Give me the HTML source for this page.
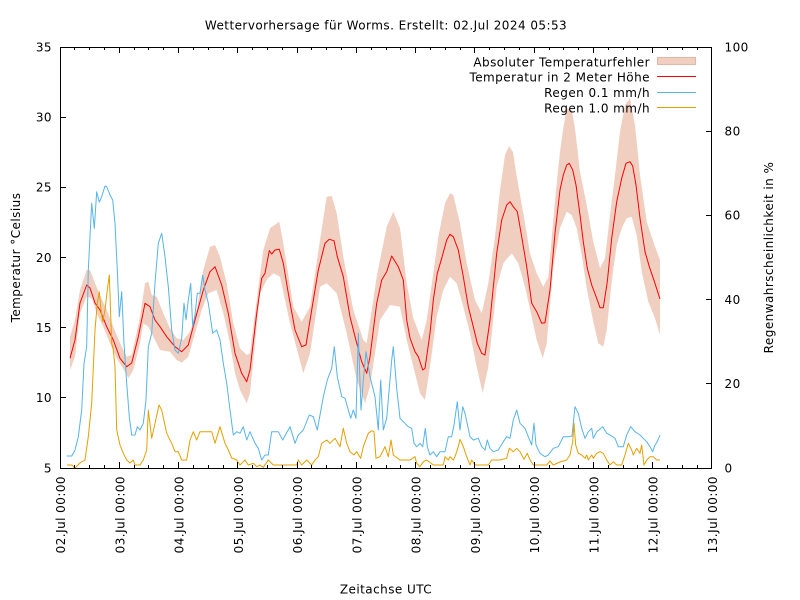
<!DOCTYPE html>
<html>
<head>
<meta charset="utf-8">
<style>
html,body{margin:0;padding:0;background:#fff;}
svg{display:block;}
text{font-family:"DejaVu Sans","Liberation Sans",sans-serif;font-size:12px;letter-spacing:0.45px;fill:#000;}
</style>
</head>
<body>
<svg width="800" height="600" viewBox="0 0 800 600" xmlns="http://www.w3.org/2000/svg">
<rect x="0" y="0" width="800" height="600" fill="#fff"/>

<!-- Title -->
<text x="386" y="29.5" text-anchor="middle">Wettervorhersage für Worms. Erstellt: 02.Jul 2024 05:53</text>

<!-- Error band -->
<polygon fill="#f0cfc0" stroke="none" points="70,336.7 75,320 80,290 86.7,270 90,270 95,283.3 100,295 106.7,310 113.3,326.7 120,343.3 126.7,356.7 131.7,355 140,316.7 145,283.3 148.3,281.7 151.7,295 156.7,296.7 163.3,313.3 170,328.3 176.7,338.3 183.3,340 190,331.7 196.7,310 203.3,270 210,246.7 215,245 220,256.7 226.7,283.3 233.3,323.3 240,348.3 246.7,355 250,353.3 256.7,300 263.3,250 270,228.3 279.3,221.7 283.3,243.3 293.3,306.7 301.7,321.7 310,306.7 320,240 326.7,196.7 331.7,196 336.7,213.3 343.3,256.7 353.3,310 363.3,340 366.7,343.3 376.7,276.7 386.7,226.7 393.3,211.7 400,228 406.7,283.3 413.3,318.3 421.7,340 426.7,320 433.3,273.3 438.3,236.7 445,203.3 450,193.3 453.3,195 460,223.3 466.7,263.3 475,300 481.7,313.3 488.3,283.3 495,236.7 500,190 505,155 509,146 513,152 516.7,176 523.3,213.3 530,253.3 536.7,273.3 543.3,286.7 548.3,277 553.3,220 556,190 560,151.7 563.3,128.3 566.7,108.3 571.7,110 575,128.3 580,171.7 586.7,205 593.3,241.7 600,268.3 605,258.3 610,215 615,175 620,131.7 625,105 630,98.3 635,125 640,175 646.7,221.7 653.3,241.7 660,260 660,335 655,318.3 648.3,301.7 641.7,271.7 636.7,235 631.7,216.7 626.7,218.3 621.7,228.3 616.7,245 611.7,281.7 606.7,330 603.3,346.7 598.3,343.3 593.3,321.7 586.7,288.3 581.7,255 576.7,228.3 571.7,215 566.7,211.7 560,228.3 553.3,266.7 546.7,343.3 542.7,358.3 536.7,340 531.7,316.7 525,286.7 518.3,263.3 511.7,253.3 503.3,263.3 496.7,286.7 488.3,366.7 482.7,393.3 476.7,366.7 470,333.3 463.3,306.7 456.7,283.3 450,276.7 443.3,290 436.7,316.7 430,366.7 425,400 420,393.3 413.3,366.7 406.7,340 400,306.7 390,305 380,320 370,386.7 365,403.3 356.7,380 346.7,333.3 336.7,293.3 326.7,283.3 320,286.7 310,353.3 303.3,373.3 290,323.3 280,276.7 273.3,273.3 266.7,280 260,293.3 250,393.3 246.7,403.3 240,390 235,373.3 230,343.3 223.3,313.3 216.7,290 208.3,293.3 201.7,310 195,333.3 188.3,356.7 181.7,362.7 176.7,360 170,351.7 160,350 155,340 148.3,326.7 143.3,323.3 140,343.3 133.3,370 128.3,378.3 125,371.7 116.7,358.3 110,343.3 103.3,326.7 96.7,313.3 91.7,298 86.7,296.7 80,313.3 75,356.7 70,370"/>

<!-- Temperature -->
<polyline fill="none" stroke="#ff0000" stroke-width="1" stroke-linejoin="round" points="70,358.3 75,340 80,303 86.7,285 90,288 95,303 100,310 106.7,326.7 113.3,340 120,358.3 126.7,366.7 131.7,363 138.3,336.7 145,303.3 150,306.7 155,320 160,326.7 166.7,336.7 175,346.7 181.7,351.7 188.3,345 195,320 203.3,290 210,271.7 215,266.7 221.7,285 228.3,313.3 235,353.3 241.7,373.3 246.7,381.7 250,370 256.7,313.3 261.7,278.3 265,273.3 269.3,250.7 271.7,254 275,250 279.3,249.3 283.3,263.3 288.3,293.3 295,330 301.7,346.7 306,345 311.7,310 318.3,270 325,243.3 329.3,239.3 334,240.7 337.3,256.7 343.3,276.7 350,316.7 356.7,343.3 361.7,361.7 366.7,373.3 370,356.7 376.7,303.3 381.7,280 386.7,271.7 391.7,256 398.3,266.7 403.3,280 406.7,320 410,338 415,351.7 418.3,356.7 422.7,370 425,368.3 430,333.3 433.3,300 437.3,273.3 441.7,258.3 446.7,240 450,234.3 453.3,236.7 458.3,250 463.3,276.7 468.3,306.7 473.3,326.7 477.3,343.3 481.7,353.3 485,355 490,320 496.7,253.3 501.7,220 506.7,205 510,201.7 513.3,206.7 517.3,211.7 521.7,236.7 526.7,266.7 531.7,303.3 536.7,311.7 541.7,323.3 545,322.7 550,290 555,233.3 560,190 563.3,175 566.7,165 569.3,163.3 572.7,170 576,185 580,215 583.3,241.7 587.3,268.3 591.7,285 596.7,298.3 600,307.7 603.3,307.7 607.3,281.7 611.7,238.3 616.7,201.7 621.7,178.3 626,163.3 630,161.7 632.7,166 636,185 640,218.3 645,251.7 649.3,266.7 653.3,278.3 660,299"/>

<!-- Rain 0.1 -->
<polyline fill="none" stroke="#56b4e9" stroke-width="1" stroke-linejoin="round" points="66.7,456 71.7,456 75,450 78.3,436.7 81.7,410 84,363.3 86.7,346.7 88.3,270 91.7,203.3 94.3,228.3 96.7,191.7 99.3,202.3 101.7,196.7 105,186 106.7,186.7 110,195 112.7,200 115,223.3 117.3,270 119.3,316.7 121.7,291.7 124,343.3 126.7,383.3 129.3,416.7 131.7,435 135,435 137.3,426.7 140,430 143.3,423.3 146,400 148.3,346.7 151.7,333.3 155,283.3 158.3,243.3 161.7,233.3 165,256.7 168.3,286.7 171.7,330 175,350 178.3,353.3 181.7,338.3 184,303.3 186,320 188.3,300 190.7,283.3 192.7,326.7 195,315 197.3,293.3 200,293.3 202.7,275 205,290 208.3,303.3 212.7,333.3 216.7,330 220,340 223.3,363.3 226.7,383.3 230,410 233.3,435 236.7,431.7 240,433.3 243.3,426.7 246.7,440 250,431.7 255,443.3 258.3,448.3 261.7,460 265,455 268.3,455 271.7,431.7 278.3,431.7 282.7,440 290,426.7 295,443.3 298.3,435 303.3,430 309.3,415 313.3,416.7 317.3,430 323.3,396.7 327.3,380 331.7,368.3 334.3,346.7 337.3,376.7 341.7,396.7 345,398.3 348.3,410 350.7,418.3 353.3,410 356,418.3 358.3,333.3 361,410 363.3,380 366,351.7 370,376.7 375,396.7 378.3,430 380.7,380 383.3,430 386.7,418.3 391.7,360 393.3,346.7 396.7,388.3 400,418.3 403.3,421.7 408.3,426.7 411.7,428.3 414,443.3 416.7,446.7 420,443.3 422.7,446.7 425.3,428.3 427.3,446.7 430,455 433.3,451.7 436.7,456.7 440,451.7 445,451.7 448.3,436.7 451.7,436.7 454,425 457.3,401.7 460,430 462.7,406.7 465,413.3 470,436.7 473.3,440 478.3,438.3 481.7,446.7 485,450 487.3,440 490,448.3 493.3,451.7 498.3,450 503.3,441.7 506.7,436.7 510,438.3 513.3,420 516.7,410 520,423.3 525,428.3 528.3,436.7 531.7,445 534,423.3 536,445 540,453.3 545,456.7 548.3,455 553.3,448.3 558.3,446.7 563.3,436.7 568.3,436.7 572,436 575,406.7 578.3,413.3 581.7,428.3 585,438.3 588.3,431.7 591.7,428.3 593.3,438.3 596.7,431.7 602.7,426.7 606.7,433.3 610,435 615,438.3 618.3,446.7 623.3,446.7 626.7,435 630.7,426.7 635,431.7 640,435 643.3,438.3 646.7,441.7 650,446.7 652.7,451.7 655,445 657.3,441.7 660,435"/>

<!-- Rain 1.0 -->
<polyline fill="none" stroke="#e69f00" stroke-width="1" stroke-linejoin="round" points="67,465 71.7,465 75,468 80,463 85,460 88.3,436.7 91.7,403.3 95,330 97.3,303.3 99.3,291.7 101,310 102.7,321.7 105,310 107.3,290 109.3,275 111.7,343.3 113.3,350 115,366.7 116.7,430 120,445 123.3,453.3 126.7,460 130,463 133.3,460 135,465 140,465 143.3,460 146.7,450 148.3,410 151.7,438.3 155,423.3 159,405 161.7,410 166.7,433.3 171.7,443.3 175,451.7 178.3,451.7 181.7,460 186.7,460 190,440 193.3,431.7 196.7,440 200,431.7 211.7,431.7 215,443.3 220,426.7 225,443.3 228.3,450 231.7,458 236.7,460 240,465 245,460 248.3,465 253.3,463.3 256.7,466.7 260,465 263.3,467.3 268.3,460 273.3,465 296.7,465 298.3,460 301.7,465 306.7,460 311.7,465 315,460 318.3,456.7 321.7,443.3 326.7,440 330,443.3 335,438.3 340,446.7 343.3,428.3 346.7,443.3 350,451.7 354,455 356.7,451.7 360.7,458.3 363.3,446.7 368.3,433.3 371.7,430.7 374,431.7 376,458.3 380,456.7 385,446.7 388.3,456.7 391,440 393.3,455 400,460 410,460 415,456.7 416.7,463.3 420,466.7 423.3,461.7 426.7,460 433.3,465 443.3,465 445,456.7 448.3,460 450,456.7 453.3,460 455,456.7 458.3,446.7 460,439.3 463.3,446.7 466.7,456.7 470,465 471.7,460 475,465 488.3,465 491.7,460 500,460 506.7,458.3 509.3,448.3 513.3,451.7 516.7,448.3 520,451.7 524,459.3 527.3,453.3 530,460 533.3,465 546.7,465 550,461 553.3,465 560,462 566.7,460 570,455 572.7,441.7 574,423.3 575.7,445 578.3,453.3 581.7,455 585,458.3 586.7,455 588.3,460 591.7,455 593.3,458.3 596.7,453.3 600,451.7 603.3,453.3 606.7,460 610,465 613.3,461.7 616.7,465 621.7,465 625,455 628.3,443.3 631.7,450 633.3,455 636.7,448.3 640,453.3 641.7,445 644,465 646.7,460 650,456.7 653.3,456.7 656.7,460 660,460"/>

<!-- Frame -->
<rect x="60.5" y="47.5" width="651" height="421" fill="none" stroke="#000" stroke-width="1"/>

<!-- Ticks -->
<path fill="none" stroke="#000" stroke-width="1" d="
M60 468.5H66 M60 397.5H66 M60 327.5H66 M60 257.5H66 M60 187.5H66 M60 117.5H66 M60 47.5H66
M712 468.5H706 M712 383.5H706 M712 299.5H706 M712 215.5H706 M712 131.5H706 M712 47.5H706
M60.5 468V462 M119.5 468V462 M178.5 468V462 M237.5 468V462 M297.5 468V462 M356.5 468V462 M415.5 468V462 M474.5 468V462 M534.5 468V462 M593.5 468V462 M652.5 468V462 M711.5 468V462
M60.5 47V53 M119.5 47V53 M178.5 47V53 M237.5 47V53 M297.5 47V53 M356.5 47V53 M415.5 47V53 M474.5 47V53 M534.5 47V53 M593.5 47V53 M652.5 47V53 M711.5 47V53
M74.5 468V465 M89.5 468V465 M104.5 468V465 M134.5 468V465 M148.5 468V465 M163.5 468V465 M193.5 468V465 M208.5 468V465 M223.5 468V465 M252.5 468V465 M267.5 468V465 M282.5 468V465 M311.5 468V465 M326.5 468V465 M341.5 468V465 M371.5 468V465 M386.5 468V465 M400.5 468V465 M430.5 468V465 M445.5 468V465 M460.5 468V465 M489.5 468V465 M504.5 468V465 M519.5 468V465 M549.5 468V465 M563.5 468V465 M578.5 468V465 M608.5 468V465 M623.5 468V465 M637.5 468V465 M667.5 468V465 M682.5 468V465 M697.5 468V465
M74.5 47V50 M89.5 47V50 M104.5 47V50 M134.5 47V50 M148.5 47V50 M163.5 47V50 M193.5 47V50 M208.5 47V50 M223.5 47V50 M252.5 47V50 M267.5 47V50 M282.5 47V50 M311.5 47V50 M326.5 47V50 M341.5 47V50 M371.5 47V50 M386.5 47V50 M400.5 47V50 M430.5 47V50 M445.5 47V50 M460.5 47V50 M489.5 47V50 M504.5 47V50 M519.5 47V50 M549.5 47V50 M563.5 47V50 M578.5 47V50 M608.5 47V50 M623.5 47V50 M637.5 47V50 M667.5 47V50 M682.5 47V50 M697.5 47V50
"/>

<!-- Left tick labels -->
<g text-anchor="end">
<text x="52" y="51.3">35</text>
<text x="52" y="121.5">30</text>
<text x="52" y="191.6">25</text>
<text x="52" y="261.8">20</text>
<text x="52" y="332">15</text>
<text x="52" y="402.1">10</text>
<text x="52" y="472.3">5</text>
</g>

<!-- Right tick labels -->
<g text-anchor="start">
<text x="724.5" y="51.3">100</text>
<text x="724.5" y="135.5">80</text>
<text x="724.5" y="219.7">60</text>
<text x="724.5" y="303.9">40</text>
<text x="724.5" y="388.1">20</text>
<text x="724.5" y="472.3">0</text>
</g>

<!-- X tick labels -->
<g text-anchor="end">
<text transform="translate(65,476) rotate(-90)">02.Jul 00:00</text>
<text transform="translate(124.3,476) rotate(-90)">03.Jul 00:00</text>
<text transform="translate(183.5,476) rotate(-90)">04.Jul 00:00</text>
<text transform="translate(242.8,476) rotate(-90)">05.Jul 00:00</text>
<text transform="translate(302.1,476) rotate(-90)">06.Jul 00:00</text>
<text transform="translate(361.4,476) rotate(-90)">07.Jul 00:00</text>
<text transform="translate(420.6,476) rotate(-90)">08.Jul 00:00</text>
<text transform="translate(479.9,476) rotate(-90)">09.Jul 00:00</text>
<text transform="translate(539.2,476) rotate(-90)">10.Jul 00:00</text>
<text transform="translate(598.5,476) rotate(-90)">11.Jul 00:00</text>
<text transform="translate(657.7,476) rotate(-90)">12.Jul 00:00</text>
<text transform="translate(717,476) rotate(-90)">13.Jul 00:00</text>
</g>

<!-- Axis labels -->
<text transform="translate(20,257.5) rotate(-90)" text-anchor="middle">Temperatur °Celsius</text>
<text transform="translate(773,257.5) rotate(-90)" text-anchor="middle">Regenwahrscheinlichkeit in %</text>
<text x="386" y="593.5" text-anchor="middle">Zeitachse UTC</text>

<!-- Legend -->
<g text-anchor="end">
<text x="650" y="66.5">Absoluter Temperaturfehler</text>
<text x="650" y="81.7">Temperatur in 2 Meter Höhe</text>
<text x="650" y="97.1">Regen 0.1 mm/h</text>
<text x="650" y="112.4">Regen 1.0 mm/h</text>
</g>
<rect x="657.5" y="57.5" width="38" height="7" fill="#f0cfc0" stroke="#e2b8a4" stroke-width="1"/>
<line x1="657" y1="76.5" x2="696" y2="76.5" stroke="#ff0000" stroke-width="1"/>
<line x1="657" y1="92.5" x2="696" y2="92.5" stroke="#56b4e9" stroke-width="1"/>
<line x1="657" y1="107.5" x2="696" y2="107.5" stroke="#e69f00" stroke-width="1"/>
</svg>
</body>
</html>
